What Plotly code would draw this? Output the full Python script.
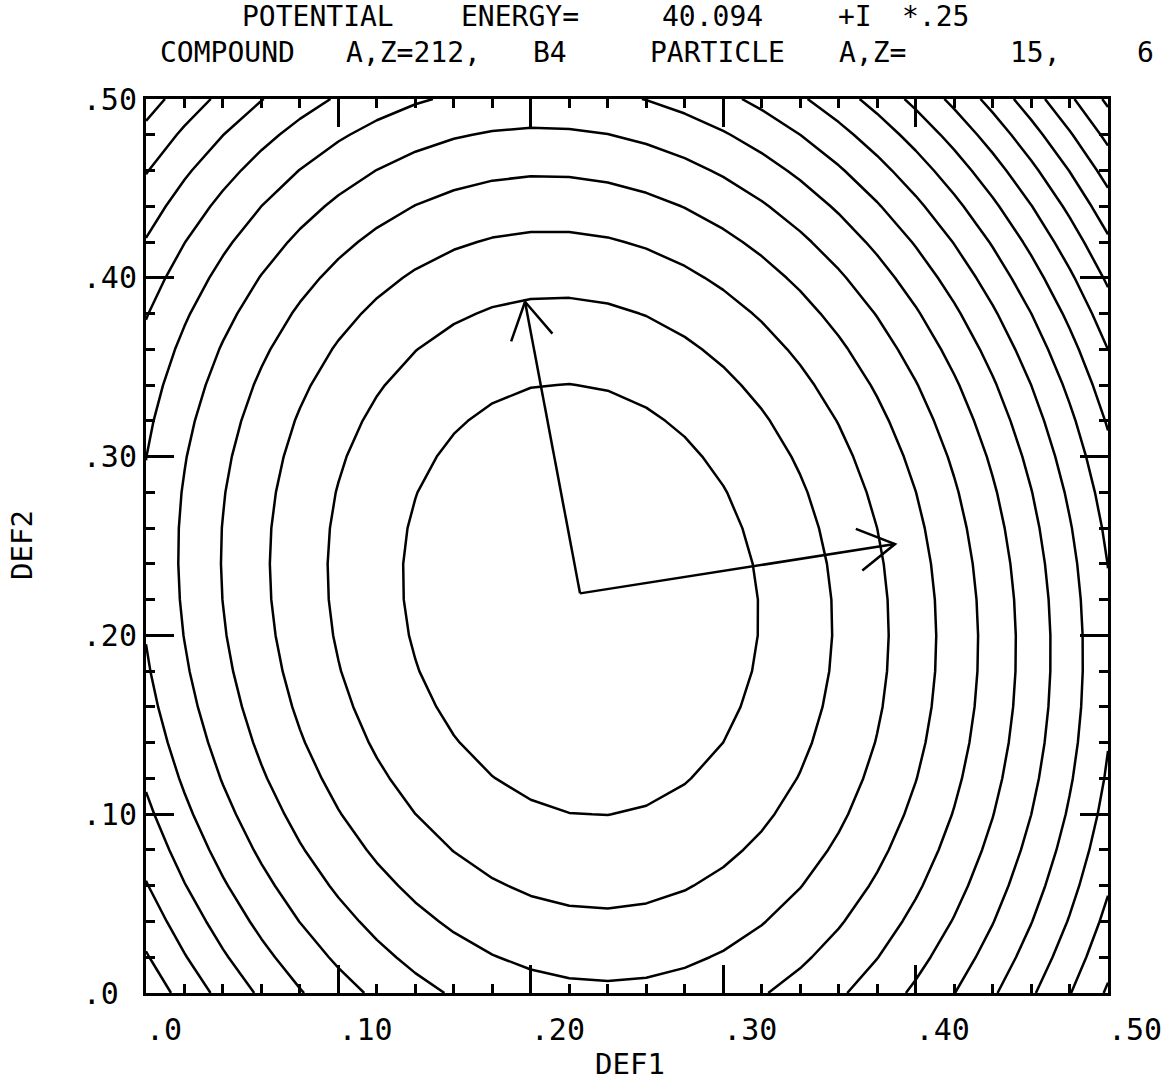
import numpy as np
import plotly.graph_objects as go

# ---------------- data ----------------
E_MIN = 40.094          # "POTENTIAL ENERGY= 40.094 +I *.25"
E_STEP = 0.25
LEVEL_FIRST = 1
LEVEL_LAST = 16

TITLE_LINE1 = ["POTENTIAL", "ENERGY=", "40.094", "+I", "*.25"]
TITLE_LINE2 = ["COMPOUND", "A,Z=212,", "B4", "PARTICLE", "A,Z=", "15,", "6"]
X_TITLE = "DEF1"
Y_TITLE = "DEF2"

TICK_VALS = [0.0, 0.1, 0.2, 0.3, 0.4, 0.5]
X_TICK_TEXT = [".0", ".10", ".20", ".30", ".40", ".50"]
Y_TICK_TEXT = [".0\u00a0", ".10", ".20", ".30", ".40", ".50"]

# Points where contour number I crosses lines of the plot
CROSS_DEF1 = (
    [0.3174, 0.3564, 0.3858, 0.4101, 0.4323, 0.4517, 0.4688, 0.4854]      # row DEF2=.2235, right
    + [0.1334, 0.0941, 0.0644, 0.0393, 0.0186]                            # row DEF2=.2235, left
    + [0.2256] * 5 + [0.2256] * 3                                          # column DEF1=.2256
    + [0.0] * 4 + [0.0] * 3                                                # left edge
    + [0.1486, 0.0956, 0.0608, 0.0322, 0.0125]                            # top edge, left
    + [0.262, 0.3124, 0.3435, 0.3727, 0.3955, 0.4153, 0.4335, 0.4506,
       0.4673, 0.4818, 0.4969]                                             # top edge, right
    + [0.1544, 0.1123, 0.079, 0.0567, 0.0343, 0.0135]                     # bottom edge, left
    + [0.320, 0.3643, 0.396, 0.4215, 0.4423, 0.4631, 0.4813, 0.4974]      # bottom edge, right
    + [0.5] * 3                                                            # right edge
)
CROSS_DEF2 = (
    [0.2235] * 8
    + [0.2235] * 5
    + [0.340, 0.3887, 0.4251, 0.4547, 0.4817] + [0.0996, 0.0475, 0.0073]
    + [0.381, 0.4228, 0.459, 0.488] + [0.1135, 0.0604, 0.0252]
    + [0.5] * 5
    + [0.5] * 11
    + [0.0] * 6
    + [0.0] * 8
    + [0.1376, 0.0537, 0.0062]
)
CROSS_LEVEL = (
    [1, 2, 3, 4, 5, 6, 7, 8]
    + [1, 2, 3, 4, 5]
    + [1, 2, 3, 4, 5] + [1, 2, 3]
    + [7, 8, 9, 10] + [7, 8, 9]
    + [6, 7, 8, 9, 10]
    + [6, 7, 8, 9, 10, 11, 12, 13, 14, 15, 16]
    + [4, 5, 6, 7, 8, 9]
    + [4, 5, 6, 7, 8, 9, 10, 11]
    + [9, 10, 11]
)

# two arrows from the minimum (DEF1, DEF2)
ARROW_ORIGIN = [0.2256, 0.2235]
ARROW_TIP_DEF1 = [0.1970, 0.3893]
ARROW_TIP_DEF2 = [0.3866, 0.2511]

# ---------------- layout constants ----------------
W, H = 1165, 1088
ML, MR, MT, MB = 146, 57, 99, 95
FONT = "DejaVu Sans Mono"
PW, PH = W - ML - MR, H - MT - MB
X_RANGE = [0.0, 0.5]
Y_RANGE = [0.0, 0.5]
PX_X = PW / (X_RANGE[1] - X_RANGE[0])
PX_Y = PH / (Y_RANGE[1] - Y_RANGE[0])


def px_to_paper(px, py):
    return (px - ML) / PW, (H - MB - py) / PH


# ---------------- surface fitted to the read crossings ----------------
cx = np.array(CROSS_DEF1, float)
cy = np.array(CROSS_DEF2, float)
cl = np.array(CROSS_LEVEL, float)


def basis(u, v):
    return np.stack([np.ones_like(u), u, v, u * u, u * v, v * v,
                     u ** 3, u * u * v, u * v * v, v ** 3], axis=-1)


wts = 1.0 / np.sqrt(cl)
A = basis(cx - 0.25, cy - 0.25)
coef, *_ = np.linalg.lstsq(A * wts[:, None], cl * wts, rcond=None)

grid = np.linspace(X_RANGE[0], X_RANGE[1], 26)
GX, GY = np.meshgrid(grid, grid)
Z = E_MIN + E_STEP * (basis(GX - 0.25, GY - 0.25) @ coef)

fig = go.Figure()
fig.add_trace(go.Contour(
    x=grid, y=grid, z=Z,
    contours=dict(start=E_MIN + E_STEP * LEVEL_FIRST,
                  end=E_MIN + E_STEP * LEVEL_LAST + 1e-9,
                  size=E_STEP, coloring="none", showlabels=False),
    line=dict(color="black", width=2.5, smoothing=0),
    showscale=False, hoverinfo="skip",
))

# ---------------- arrows ----------------
BARB_PX = 42
BARB_ANG = np.deg2rad(30)
ax_list, ay_list = [], []
for tx, ty in zip(ARROW_TIP_DEF1, ARROW_TIP_DEF2):
    ox, oy = ARROW_ORIGIN
    dxp, dyp = (tx - ox) * PX_X, (ty - oy) * PX_Y
    n = np.hypot(dxp, dyp)
    bx, by = -dxp / n, -dyp / n
    ends = []
    for s in (1, -1):
        c, sn = np.cos(s * BARB_ANG), np.sin(s * BARB_ANG)
        rx, ry = c * bx - sn * by, sn * bx + c * by
        ends.append((tx + BARB_PX * rx / PX_X, ty + BARB_PX * ry / PX_Y))
    ax_list += [ox, tx, None, ends[0][0], tx, ends[1][0], None]
    ay_list += [oy, ty, None, ends[0][1], ty, ends[1][1], None]

fig.add_trace(go.Scatter(x=ax_list, y=ay_list, mode="lines",
                         line=dict(color="black", width=2.5),
                         hoverinfo="skip", showlegend=False))

# ---------------- axes ----------------
common = dict(
    showgrid=False, zeroline=False, showline=True, linecolor="black",
    linewidth=3, mirror="allticks", ticks="inside", ticklen=28, tickwidth=3,
    tickcolor="black", tickmode="array", tickvals=TICK_VALS,
    tickfont=dict(family=FONT, size=30, color="black"),
    minor=dict(ticks="inside", ticklen=9, tickwidth=2.5, tickcolor="black",
               tickmode="linear", tick0=0, dtick=0.02, showgrid=False),
)
# x labels start at their tick (as in the reference): pad left with blanks
x_tick_text = ["\u00a0" * len(t) + t for t in X_TICK_TEXT]
fig.update_xaxes(range=X_RANGE, ticktext=x_tick_text, ticklabelstandoff=8, **common)
fig.update_yaxes(range=Y_RANGE, ticktext=Y_TICK_TEXT, ticklabelstandoff=0, **common)

# ---------------- texts ----------------
ann = []
line1_x = [240, 459, 660, 836, 900]
line2_x = [158, 344, 531, 648, 837, 1008, 1135]
for txts, xs, py in ((TITLE_LINE1, line1_x, 17), (TITLE_LINE2, line2_x, 52)):
    for txt, px in zip(txts, xs):
        xp, yp = px_to_paper(px, py)
        ann.append(dict(text=txt, x=xp, y=yp, xref="paper", yref="paper",
                        xanchor="left", yanchor="middle", showarrow=False,
                        font=dict(family=FONT, size=28, color="black")))
xp, yp = px_to_paper(630, 1064)
ann.append(dict(text=X_TITLE, x=xp, y=yp, xref="paper", yref="paper",
                xanchor="center", yanchor="middle", showarrow=False,
                font=dict(family=FONT, size=29, color="black")))
xp, yp = px_to_paper(22, 545)
ann.append(dict(text=Y_TITLE, x=xp, y=yp, xref="paper", yref="paper",
                xanchor="center", yanchor="middle", showarrow=False, textangle=-90,
                font=dict(family=FONT, size=29, color="black")))

fig.update_layout(
    width=W, height=H, margin=dict(l=ML, r=MR, t=MT, b=MB, autoexpand=False),
    plot_bgcolor="white", paper_bgcolor="white", showlegend=False,
    font=dict(family=FONT, color="black"), annotations=ann,
)

fig.write_html("out.html",
               config={"displayModeBar": False},
               post_script="document.body.style.margin='0px';"
                           "document.body.style.overflow='hidden';")
